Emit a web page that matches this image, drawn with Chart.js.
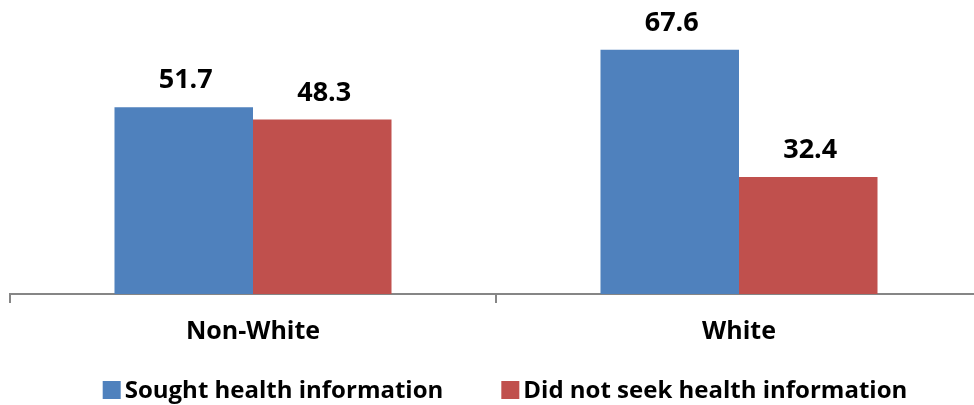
<!DOCTYPE html>
<html>
<head>
<meta charset="utf-8">
<script src="https://cdn.jsdelivr.net/npm/chart.js@4.4.1/dist/chart.umd.min.js"></script>
<style>
  html, body { margin: 0; padding: 0; background: #fff; overflow: hidden; }
  #wrap { position: relative; width: 984px; height: 405px; }
</style>
</head>
<body>
<div id="wrap"><canvas id="infoChart" width="984" height="405"></canvas></div>
<script>
const categories = ["Non-White", "White"];
const soughtInfo = [51.7, 67.6];
const didNotSeek = [48.3, 32.4];
const seriesNames = ["Sought health information", "Did not seek health information"];

const FONT = "'Open Sans', sans-serif";

// value labels above each bar
const barValues = {
  id: "barValues",
  afterDatasetsDraw(chart) {
    const ctx = chart.ctx;
    ctx.save();
    ctx.font = "bold 27px " + FONT;
    ctx.fillStyle = "#000";
    ctx.textAlign = "center";
    ctx.textBaseline = "alphabetic";
    chart.data.datasets.forEach((ds, i) => {
      chart.getDatasetMeta(i).data.forEach((bar, j) => {
        ctx.fillText(ds.data[j].toFixed(1), bar.x + 2, bar.y - 19);
      });
    });
    ctx.restore();
  }
};

// legend drawn under the axis, boxes sit close to their text
const bottomLegend = {
  id: "bottomLegend",
  afterDraw(chart) {
    const ctx = chart.ctx;
    const box = 18, gap = 4, itemGap = 58;
    ctx.save();
    ctx.font = "bold 24px " + FONT;
    ctx.textBaseline = "middle";
    const widths = chart.data.datasets.map(ds => box + gap + ctx.measureText(ds.label).width);
    const total = widths.reduce((a, b) => a + b, 0) + itemGap * (widths.length - 1);
    let x = 505 - total / 2;
    const y = 390;
    chart.data.datasets.forEach((ds, i) => {
      ctx.fillStyle = ds.backgroundColor;
      ctx.fillRect(x, y - box / 2, box, box);
      ctx.fillStyle = "#000";
      ctx.fillText(ds.label, x + box + gap, y + 1);
      x += widths[i] + itemGap;
    });
    ctx.restore();
  }
};

new Chart(document.getElementById("infoChart"), {
  type: "bar",
  data: {
    labels: categories,
    datasets: [
      { label: seriesNames[0], data: soughtInfo, backgroundColor: "#4F81BD" },
      { label: seriesNames[1], data: didNotSeek, backgroundColor: "#C0504D" }
    ]
  },
  options: {
    responsive: false,
    animation: false,
    layout: { padding: { left: 10, right: 2, top: 5, bottom: 0 } },
    datasets: { bar: { categoryPercentage: 0.57, barPercentage: 1 } },
    plugins: { legend: { display: false }, tooltip: { enabled: false } },
    scales: {
      x: {
        afterFit(scale) { scale.height = 111; },
        border: { color: "#868686", width: 2 },
        grid: { drawOnChartArea: false, color: "#868686", lineWidth: 2, tickLength: 9 },
        ticks: { color: "#000", font: { family: FONT, weight: "bold", size: 25 }, padding: 14 }
      },
      y: { display: false, min: 0, max: 80 }
    }
  },
  plugins: [barValues, bottomLegend]
});
</script>
</body>
</html>
